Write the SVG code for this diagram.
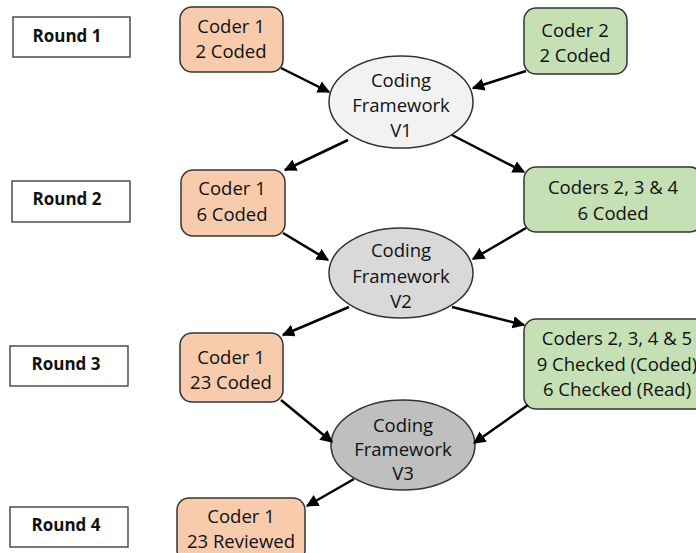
<svg xmlns="http://www.w3.org/2000/svg" width="696" height="553" viewBox="0 0 696 553">
<defs>
<marker id="ah" viewBox="0 0 10 10" refX="9" refY="5" markerWidth="5" markerHeight="5" orient="auto" markerUnits="strokeWidth">
<path d="M0,0 L10,5 L0,10 z" fill="#000"/>
</marker>
<style>
.lbl{fill:#fff;stroke:#333;stroke-width:1.3}
.org{fill:#F8CBAD;stroke:#333;stroke-width:1.5}
.grn{fill:#C5E0B4;stroke:#333;stroke-width:1.5}
.ell{stroke:#333;stroke-width:1.5}
text{font-family:"Open Sans","Noto Sans",sans-serif;font-size:18.5px;fill:#111;text-anchor:middle}
.rt{font-weight:bold;font-size:17px}
.con line{stroke:#000;stroke-width:2.5;marker-end:url(#ah)}
</style>
</defs>
<rect width="696" height="553" fill="#fff"/>
<g id="round1"><rect class="lbl" x="13" y="17" width="117" height="40"/><text class="rt" x="67" y="42">Round 1</text></g>
<g id="round2"><rect class="lbl" x="12" y="181" width="118" height="41"/><text class="rt" x="67" y="205">Round 2</text></g>
<g id="round3"><rect class="lbl" x="10" y="346" width="118" height="40"/><text class="rt" x="66" y="370">Round 3</text></g>
<g id="round4"><rect class="lbl" x="10" y="507" width="118" height="40"/><text class="rt" x="66" y="531">Round 4</text></g>

<g id="r1c1"><rect class="org" x="180" y="7" width="103" height="65" rx="12"/><text x="231" y="33">Coder 1</text><text x="231" y="58">2 Coded</text></g>
<g id="r1c2"><rect class="grn" x="524" y="8" width="103" height="66" rx="12"/><text x="575" y="37">Coder 2</text><text x="575" y="62">2 Coded</text></g>
<g id="v1"><ellipse class="ell" cx="401" cy="102" rx="72" ry="46" fill="#F2F2F2"/><text x="401" y="87">Coding</text><text x="401" y="112">Framework</text><text x="401" y="137">V1</text></g>

<g id="r2c1"><rect class="org" x="181" y="170" width="104" height="66" rx="12"/><text x="232" y="195">Coder 1</text><text x="232" y="221">6 Coded</text></g>
<g id="r2c2"><rect class="grn" x="524" y="167" width="178" height="65" rx="12"/><text x="613" y="194">Coders 2, 3 &amp; 4</text><text x="613" y="220">6 Coded</text></g>
<g id="v2"><ellipse class="ell" cx="401" cy="273" rx="72" ry="45" fill="#D9D9D9"/><text x="401" y="257">Coding</text><text x="401" y="283">Framework</text><text x="401" y="308">V2</text></g>

<g id="r3c1"><rect class="org" x="180" y="333" width="103" height="69" rx="12"/><text x="231" y="364">Coder 1</text><text x="231" y="389">23 Coded</text></g>
<g id="r3c2"><rect class="grn" x="524" y="319" width="190" height="90" rx="12"/><text x="617" y="345">Coders 2, 3, 4 &amp; 5</text><text x="617" y="371">9 Checked (Coded)</text><text x="617" y="396">6 Checked (Read)</text></g>
<g id="v3"><ellipse class="ell" cx="403" cy="445" rx="72" ry="45" fill="#BFBFBF"/><text x="403" y="432">Coding</text><text x="403" y="456">Framework</text><text x="403" y="480">V3</text></g>

<g id="r4c1"><rect class="org" x="177" y="498" width="128" height="64" rx="12"/><text x="241" y="523">Coder 1</text><text x="241" y="548">23 Reviewed</text></g>

<g class="con" id="connectors">
<line x1="281" y1="68" x2="329" y2="92"/>
<line x1="526" y1="71" x2="473" y2="88"/>
<line x1="348" y1="140" x2="285" y2="170"/>
<line x1="452" y1="135" x2="524" y2="172"/>
<line x1="283" y1="233" x2="328" y2="260"/>
<line x1="526" y1="228" x2="473" y2="259"/>
<line x1="349" y1="307" x2="283" y2="335"/>
<line x1="452" y1="307" x2="524" y2="325"/>
<line x1="281" y1="400" x2="332" y2="442"/>
<line x1="528" y1="405" x2="474" y2="443"/>
<line x1="354" y1="479" x2="307" y2="506"/>
</g>
</svg>
